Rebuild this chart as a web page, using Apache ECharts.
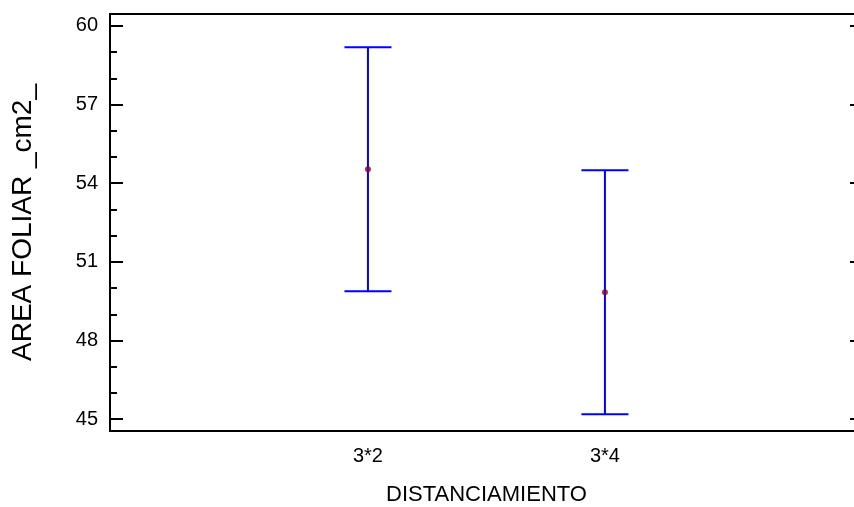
<!DOCTYPE html>
<html>
<head>
<meta charset="utf-8">
<script src="https://cdn.jsdelivr.net/npm/echarts@6/dist/echarts.min.js"></script>
<style>
  html, body { margin: 0; padding: 0; background: #fff; }
  #main { width: 854px; height: 507px; }
</style>
</head>
<body>
<div id="main"></div>
<script>
// datos
const categories = ['3*2', '3*4']
const means = [54.53, 49.84]
const lower = [49.88, 45.19]
const upper = [59.18, 54.49]
const majorTicks = [45, 48, 51, 54, 57, 60]
const minorTicks = [45, 46, 47, 48, 49, 50, 51, 52, 53, 54, 55, 56, 57, 58, 59, 60]

const FONT = 'Liberation Sans, Arial, sans-serif'
const Y_MIN = 44.55
const Y_MAX = 60.45

const barData = categories.map(function (c, i) {
  return [i + 1, lower[i], upper[i]]
})
const meanData = categories.map(function (c, i) {
  return [i + 1, means[i]]
})

var myChart = echarts.init(document.getElementById('main'))

const options = {
  animation: false,
  grid: {
    left: 110,
    right: -9,
    top: 14,
    bottom: 76,
    outerBoundsMode: 'none',
    show: true,
    borderColor: '#000',
    borderWidth: 2
  },
  xAxis: {
    type: 'value',
    min: -0.0886,
    max: 3.089,
    name: 'DISTANCIAMIENTO',
    nameLocation: 'middle',
    nameGap: 53,
    nameTextStyle: { fontFamily: FONT, fontSize: 22, color: '#000' },
    splitLine: { show: false },
    axisLine: { onZero: false, lineStyle: { color: '#000', width: 2 } },
    axisTick: { show: false },
    axisLabel: {
      customValues: [1, 2],
      formatter: function (v) { return categories[Math.round(v) - 1] },
      fontFamily: FONT,
      fontSize: 20,
      color: '#000',
      margin: 15
    }
  },
  yAxis: [
    {
      type: 'value',
      min: Y_MIN,
      max: Y_MAX,
      position: 'left',
      name: 'AREA FOLIAR _cm2_',
      nameLocation: 'middle',
      nameGap: 73,
      nameTextStyle: { fontFamily: FONT, fontSize: 28, color: '#000' },
      splitLine: { show: false },
      axisLine: { show: true, onZero: false, lineStyle: { color: '#000', width: 2 } },
      axisTick: { inside: true, length: 13, customValues: majorTicks, lineStyle: { color: '#000', width: 2 } },
      axisLabel: { customValues: majorTicks, fontFamily: FONT, fontSize: 20, color: '#000', margin: 12 }
    },
    {
      // marcas menores
      type: 'value',
      min: Y_MIN,
      max: Y_MAX,
      position: 'left',
      offset: 0,
      splitLine: { show: false },
      axisLine: { show: false, onZero: false },
      axisTick: { show: true, inside: true, length: 7, customValues: minorTicks, lineStyle: { color: '#000', width: 2 } },
      axisLabel: { show: false }
    },
    {
      type: 'value',
      min: Y_MIN,
      max: Y_MAX,
      position: 'right',
      splitLine: { show: false },
      axisLine: { show: true, onZero: false, lineStyle: { color: '#000', width: 2 } },
      axisTick: { show: true, inside: true, length: 13, customValues: majorTicks, lineStyle: { color: '#000', width: 2 } },
      axisLabel: { show: false }
    }
  ],
  series: [
    {
      type: 'custom',
      data: barData,
      renderItem: function (params, api) {
        const x = api.value(0)
        const lo = api.coord([x, api.value(1)])
        const hi = api.coord([x, api.value(2)])
        const hw = 23.5
        const style = { stroke: '#0000ff', lineWidth: 2 }
        return {
          type: 'group',
          children: [
            { type: 'line', shape: { x1: lo[0], y1: lo[1], x2: hi[0], y2: hi[1] }, style: style },
            { type: 'line', shape: { x1: hi[0] - hw, y1: hi[1], x2: hi[0] + hw, y2: hi[1] }, style: style },
            { type: 'line', shape: { x1: lo[0] - hw, y1: lo[1], x2: lo[0] + hw, y2: lo[1] }, style: style }
          ]
        }
      },
      z: 2
    },
    {
      type: 'scatter',
      data: meanData,
      symbol: 'circle',
      symbolSize: 6,
      itemStyle: { color: '#8b0036' },
      z: 3
    }
  ]
}

myChart.setOption(options)
</script>
</body>
</html>
